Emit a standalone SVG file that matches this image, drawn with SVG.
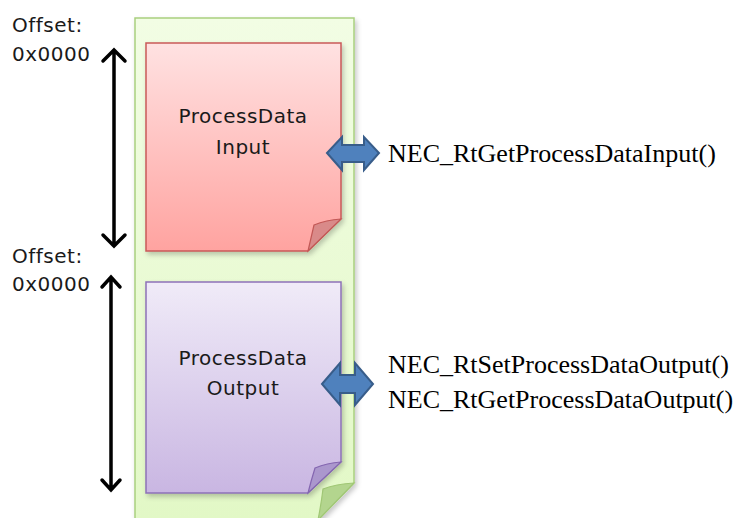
<svg xmlns="http://www.w3.org/2000/svg" width="736" height="518" viewBox="0 0 736 518">
  <style>
    .lbl { font-family: "DejaVu Sans", Verdana, sans-serif; font-size: 20px; letter-spacing: 0.5px; fill: #1a1a1a; }
    .fn { font-family: "Liberation Serif", "Times New Roman", serif; font-size: 26px; fill: #000; }
    .dim { fill: none; stroke: #000; stroke-width: 3.5; stroke-linecap: round; stroke-linejoin: miter; }
    .blue { fill: #4F81BD; stroke: #385D8A; stroke-width: 2; stroke-linejoin: miter; }
  </style>
  <defs>
    <linearGradient id="gPage" x1="0" y1="0" x2="0" y2="1">
      <stop offset="0" stop-color="#F2FDE4"/>
      <stop offset="1" stop-color="#E2F8C6"/>
    </linearGradient>
    <linearGradient id="gRed" x1="0" y1="0" x2="0" y2="1">
      <stop offset="0" stop-color="#FFE2E2"/>
      <stop offset="1" stop-color="#FFA3A0"/>
    </linearGradient>
    <linearGradient id="gPurple" x1="0" y1="0" x2="0" y2="1">
      <stop offset="0" stop-color="#F0EBF8"/>
      <stop offset="1" stop-color="#C9B6E2"/>
    </linearGradient>
    <filter id="shadow" x="-10%" y="-10%" width="130%" height="130%">
      <feDropShadow dx="2" dy="3" stdDeviation="2.5" flood-color="#000" flood-opacity="0.22"/>
    </filter>
  </defs>

  <rect width="736" height="518" fill="#fff"/>

  <!-- memory page -->
  <g id="page">
    <path d="M135,18 H354 V483 L318,520 H135 Z" fill="url(#gPage)" stroke="#A9CF7F" stroke-width="1.5" filter="url(#shadow)"/>
    <path d="M354,483 Q336,484 323,489 Q321,505 318,520 Z" fill="#B3D58E" stroke="#A0C775" stroke-width="1.2"/>
  </g>

  <!-- input area -->
  <g id="input">
    <path d="M146,43 H341 V219 L308,251 H146 Z" fill="url(#gRed)" stroke="#C95A58" stroke-width="1.5" filter="url(#shadow)"/>
    <path d="M341,219 Q326,220 314,225 Q311,238 308,251 Z" fill="#D98A89" stroke="#C25856" stroke-width="1.2"/>
    <text class="lbl" x="243" y="123" text-anchor="middle">ProcessData</text>
    <text class="lbl" x="243" y="154" text-anchor="middle">Input</text>
  </g>

  <!-- output area -->
  <g id="output">
    <path d="M146,282 H341 V462 L308,493 H146 Z" fill="url(#gPurple)" stroke="#8D72B8" stroke-width="1.5" filter="url(#shadow)"/>
    <path d="M341,462 Q327,463 315,468 Q311,481 308,493 Z" fill="#AB97CD" stroke="#8466B0" stroke-width="1.2"/>
    <text class="lbl" x="243" y="365" text-anchor="middle">ProcessData</text>
    <text class="lbl" x="243" y="395" text-anchor="middle">Output</text>
  </g>

  <!-- offset labels -->
  <g id="offsets">
    <text class="lbl" x="12" y="32" letter-spacing="1">Offset:</text>
    <text class="lbl" x="12" y="61" letter-spacing="0.3">0x0000</text>
    <text class="lbl" x="12" y="263" letter-spacing="1">Offset:</text>
    <text class="lbl" x="12" y="291" letter-spacing="0.3">0x0000</text>
  </g>

  <!-- function labels -->
  <g id="functions">
    <text class="fn" x="388" y="162">NEC_RtGetProcessDataInput()</text>
    <text class="fn" x="388" y="373">NEC_RtSetProcessDataOutput()</text>
    <text class="fn" x="388" y="408">NEC_RtGetProcessDataOutput()</text>
  </g>

  <g id="connectors">
    <!-- size ranges -->
    <path class="dim" d="M114,50 V246 M103,61 L114,50 L125,61 M103,235 L114,246 L125,235"/>
    <path class="dim" d="M111,277 V490 M102,287 L111,277 L120,287 M102,480 L111,490 L120,480"/>
    <!-- access arrows -->
    <path class="blue" d="M327,153 L342,137 V145 H364 V137 L379,153 L364,170 V162 H342 V170 Z"/>
    <path class="blue" d="M322,384 L340,363 V375 H355 V363 L373,384 L355,405 V393 H340 V405 Z"/>
  </g>
</svg>
